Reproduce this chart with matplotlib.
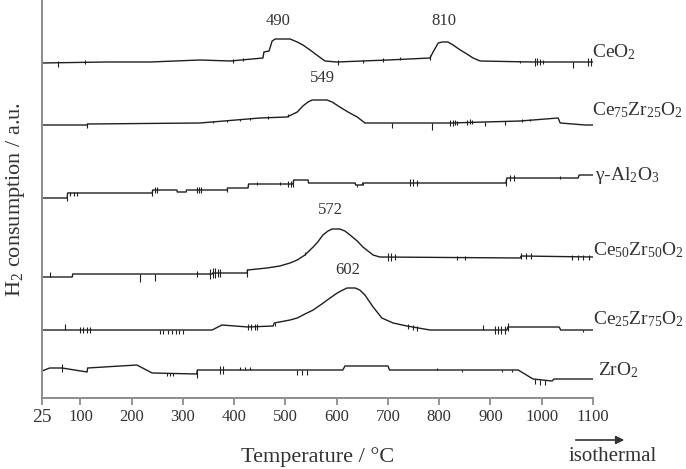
#------------------------------------------------------------------------------------------------------
# TPR profiles (H2 consumption vs temperature), stacked curves
#------------------------------------------------------------------------------------------------------
import matplotlib
matplotlib.use('Agg')
import matplotlib.pyplot as plt                              # Plotting library
import numpy as np                                           # Scientific computing with Python

plt.rcParams['font.family'] = 'Liberation Serif'
plt.rcParams['mathtext.fontset'] = 'custom'
plt.rcParams['mathtext.rm'] = 'Liberation Serif'
plt.rcParams['mathtext.it'] = 'Liberation Serif:italic'
plt.rcParams['mathtext.bf'] = 'Liberation Serif:bold'

#------------------------------------------------------------------------------------------------------
# Data (temperature in degC, signal in a.u., curves already shifted vertically)
#------------------------------------------------------------------------------------------------------
t_ceo2 = [25, 150, 236, 333, 392, 456, 458, 468, 474, 480, 509, 523, 534, 548, 561,
          577, 600, 700, 782, 788, 798, 806, 817, 827, 841, 854, 866, 880, 980, 1100]
h_ceo2 = [335, 336, 336, 338, 337, 340, 346, 347, 357, 359, 359, 356, 353, 348, 343,
          337, 336, 338, 340, 346, 355, 356, 356, 353, 348, 344, 340, 337, 336, 336]
sp_t_ceo2 = [56, 109, 398, 417, 602, 651, 690, 723, 782, 958, 986, 990, 996, 1002, 1061, 1090, 1097]
sp_up_ceo2 = [2, 2, 2, 2, 2, 1, 2, 2, 3, 1, 4, 4, 3, 2, 0, 4, 4]
sp_dn_ceo2 = [4, 2, 2, 1, 3, 2, 2, 1, 2, 1, 4, 3, 3, 2, 6, 4, 4]

t_ce75 = [25, 113, 114, 333, 450, 503, 523, 534, 544, 552, 581, 591, 606, 622, 640,
          655, 821, 958, 1032, 1036, 1085, 1100]
h_ce75 = [273, 273, 274, 275, 280, 281, 286, 292, 296, 298, 298, 296, 291, 286, 281,
          275, 275, 277, 280, 275, 273, 273]
sp_t_ce75 = [113, 358, 386, 411, 431, 466, 505, 708, 786, 821, 826, 831, 835, 854, 860, 864, 889, 928, 962, 977]
sp_up_ce75 = [2, 1, 1, 1, 1, 2, 2, 0, 0, 3, 3, 3, 2, 3, 3, 2, 0, 0, 2, 1]
sp_dn_ce75 = [3, 1, 1, 1, 1, 1, 1, 5, 7, 3, 3, 2, 2, 2, 2, 2, 4, 4, 1, 1]

t_al = [25, 74, 75, 240, 241, 288, 289, 306, 307, 386, 387, 427, 428, 515, 516,
        544, 545, 636, 637, 650, 651, 930, 932, 1071, 1073, 1100]
h_al = [200, 200, 205, 205, 208, 208, 206, 206, 208, 208, 210, 210, 214, 214, 218,
        218, 215, 215, 213, 213, 215, 215, 220, 220, 223, 223]
sp_t_al = [74, 80, 87, 93, 240, 245, 249, 327, 331, 335, 386, 444, 489, 505, 510,
           515, 640, 651, 743, 748, 757, 930, 938, 946, 1035]
sp_up_al = [1, 1, 1, 1, 3, 3, 3, 3, 3, 3, 2, 2, 2, 3, 3, 3, 0, 0, 4, 4, 3, 3, 3, 3, 2]
sp_dn_al = [3, 3, 3, 3, 3, 3, 3, 3, 3, 3, 2, 1, 1, 3, 3, 3, 2, 2, 3, 3, 3, 3, 3, 3, 1]

t_ce50 = [25, 84, 85, 357, 358, 425, 426, 464, 489, 509, 523, 538, 554, 563, 573,
          583, 591, 606, 616, 626, 640, 651, 661, 671, 684, 958, 960, 1100]
h_ce50 = [121, 121, 124, 124, 125, 125, 128, 130, 132, 135, 138, 143, 151, 156, 163,
          167, 169, 169, 167, 163, 157, 151, 147, 143, 141, 140, 142, 141]
sp_t_ce50 = [40, 216, 245, 327, 353, 358, 363, 368, 372, 425, 538, 700, 705, 714,
             835, 850, 960, 970, 980, 1060, 1070, 1080, 1092]
sp_up_ce50 = [5, 0, 0, 3, 5, 5, 5, 4, 4, 4, 3, 4, 4, 3, 2, 2, 3, 3, 3, 2, 2, 2, 2]
sp_dn_ce50 = [0, 8, 7, 3, 5, 5, 5, 4, 4, 4, 0, 4, 4, 3, 2, 2, 3, 3, 3, 3, 3, 3, 3]

t_ce25 = [25, 357, 376, 427, 476, 478, 509, 523, 538, 554, 571, 587, 601, 612, 620,
          636, 645, 655, 671, 688, 710, 737, 782, 932, 934, 1034, 1037, 1100]
h_ce25 = [68, 68, 73, 71, 72, 75, 78, 80, 84, 88, 94, 100, 105, 108, 110,
          110, 108, 103, 91, 80, 75, 72, 68, 68, 71, 71, 68, 68]
sp_t_ce25 = [70, 99, 105, 113, 119, 255, 262, 270, 278, 286, 293, 300, 427, 433,
             440, 444, 480, 739, 748, 757, 885, 909, 915, 921, 928, 934, 1081]
sp_up_ce25 = [6, 3, 3, 3, 3, 0, 0, 0, 0, 0, 0, 0, 3, 3, 3, 3, 0, 2, 2, 2, 5, 4, 4, 4, 4, 4, 0]
sp_dn_ce25 = [0, 3, 3, 3, 3, 4, 4, 4, 4, 4, 4, 4, 3, 3, 3, 3, 3, 3, 3, 3, 0, 4, 4, 4, 4, 4, 2]

t_zro2 = [25, 40, 64, 113, 114, 210, 240, 327, 328, 612, 616, 700, 703, 954, 983, 1020, 1024, 1100]
h_zro2 = [27, 30, 30, 26, 30, 33, 25, 24, 28, 28, 32, 32, 28, 28, 19, 17, 19, 19]
sp_t_zro2 = [64, 269, 275, 281, 327, 372, 378, 411, 421, 431, 523, 532, 542, 796, 844, 922, 942, 987, 997, 1006]
sp_up_zro2 = [4, 0, 0, 0, 4, 4, 4, 3, 3, 3, 0, 0, 0, 2, 0, 0, 0, 0, 0, 0]
sp_dn_zro2 = [4, 3, 3, 3, 4, 4, 4, 0, 0, 0, 5, 5, 5, 0, 2, 2, 2, 5, 5, 5]

# Sample names (right side) and their label anchors (T, signal)
names = ['CeO$_2$', 'Ce$_{75}$Zr$_{25}$O$_2$', 'γ-Al$_2$O$_3$',
         'Ce$_{50}$Zr$_{50}$O$_2$', 'Ce$_{25}$Zr$_{75}$O$_2$', 'ZrO$_2$']
name_t = [1099, 1099, 1104, 1100, 1100, 1110]
name_h = [341, 283, 218, 143, 74, 23]

# Peak maxima labels
peak_txt = ['490', '810', '549', '572', '602']
peak_t = [485, 809, 573, 587, 622]
peak_h = [377, 377, 320, 188, 128]

xticks = [25, 100, 200, 300, 400, 500, 600, 700, 800, 900, 1000, 1100]

#------------------------------------------------------------------------------------------------------
# Figure
#------------------------------------------------------------------------------------------------------
fig = plt.figure(figsize=(6.86, 4.69), dpi=100)
ax = fig.add_axes([42/686, 71/469, 551/686, 398/469])

line_col = '#1f1f1f'
axis_col = '#8c8c8c'
text_col = '#333333'

curves = [(t_ceo2, h_ceo2, sp_t_ceo2, sp_up_ceo2, sp_dn_ceo2),
          (t_ce75, h_ce75, sp_t_ce75, sp_up_ce75, sp_dn_ce75),
          (t_al, h_al, sp_t_al, sp_up_al, sp_dn_al),
          (t_ce50, h_ce50, sp_t_ce50, sp_up_ce50, sp_dn_ce50),
          (t_ce25, h_ce25, sp_t_ce25, sp_up_ce25, sp_dn_ce25),
          (t_zro2, h_zro2, sp_t_zro2, sp_up_zro2, sp_dn_zro2)]

for t, h, st, su, sd in curves:
    ax.plot(t, h, color=line_col, linewidth=1.0)
    # little noise spikes of the detector
    base = np.interp(st, t, h)
    ax.vlines(st, base - np.array(sd), base + np.array(su), color=line_col, linewidth=0.8)

# Sample names
for name, tx, hy in zip(names, name_t, name_h):
    ax.text(tx, hy, name, fontsize=14, color=text_col, ha='left', va='baseline', clip_on=False)

# Peak temperatures
for txt, tx, hy in zip(peak_txt, peak_t, peak_h):
    ax.text(tx, hy, txt, fontsize=12, color=text_col, ha='center', va='center')

ax.set_xlim(25, 1100)
ax.set_ylim(0, 398)

# Axes style
for s in ['top', 'right']:
    ax.spines[s].set_visible(False)
for s in ['left', 'bottom']:
    ax.spines[s].set_color(axis_col)
    ax.spines[s].set_linewidth(1.4)

ax.set_yticks([])
ax.set_xticks(xticks)
ax.tick_params(axis='x', direction='out', length=5, width=1.3, color=axis_col,
               labelsize=12, labelcolor=text_col, pad=3)
ax.get_xticklabels()[0].set_fontsize(14)   # the "25" is printed bigger in the original

# Axis titles
fig.text(318/686, 1 - 457/469, 'Temperature / °C', fontsize=16, color=text_col, ha='center', va='center')
fig.text(16/686, 1 - 199/469, 'H$_2$ consumption / a.u.', fontsize=16, color=text_col,
         ha='center', va='center', rotation=90)

# Isothermal arrow
fig.text(613/686, 1 - 456/469, 'isothermal', fontsize=15, color=text_col, ha='center', va='center')
ax.annotate('', xy=(627/686, 1 - 440/469), xytext=(573/686, 1 - 440/469),
            xycoords='figure fraction', textcoords='figure fraction',
            arrowprops=dict(arrowstyle='-|>', color=text_col, lw=1.2, mutation_scale=12))

# Save the image
plt.savefig('out.png', dpi=100)
